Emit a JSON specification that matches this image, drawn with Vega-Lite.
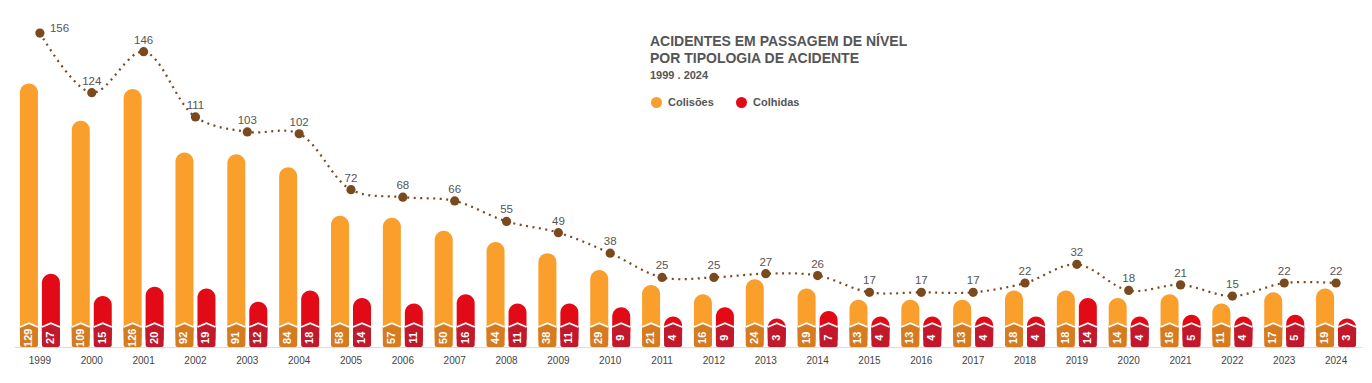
{
  "$schema": "https://vega.github.io/schema/vega-lite/v6.json",
  "width": 1348,
  "height": 347,
  "autosize": {"type": "none"},
  "padding": {"left": 14, "top": 0, "right": 10, "bottom": 36},
  "background": "white",
  "config": {
    "view": {"stroke": null},
    "font": "Liberation Sans"
  },
  "title": {
    "text": ["ACIDENTES EM PASSAGEM DE NÍVEL", "POR TIPOLOGIA DE ACIDENTE"],
    "subtitle": "1999 . 2024",
    "anchor": "start",
    "frame": "group",
    "dx": 636,
    "dy": 81,
    "offset": 0,
    "font": "Liberation Sans",
    "fontSize": 14,
    "fontWeight": "bold",
    "color": "#555555",
    "lineHeight": 17,
    "subtitleFont": "Liberation Sans",
    "subtitleFontSize": 11,
    "subtitleFontWeight": "bold",
    "subtitleColor": "#555555",
    "subtitlePadding": 4
  },
  "datasets": {
    "acidentes": [
      {"ano": "1999", "tipo": "Colisões", "valor": 129}, {"ano": "1999", "tipo": "Colhidas", "valor": 27},
      {"ano": "2000", "tipo": "Colisões", "valor": 109}, {"ano": "2000", "tipo": "Colhidas", "valor": 15},
      {"ano": "2001", "tipo": "Colisões", "valor": 126}, {"ano": "2001", "tipo": "Colhidas", "valor": 20},
      {"ano": "2002", "tipo": "Colisões", "valor": 92}, {"ano": "2002", "tipo": "Colhidas", "valor": 19},
      {"ano": "2003", "tipo": "Colisões", "valor": 91}, {"ano": "2003", "tipo": "Colhidas", "valor": 12},
      {"ano": "2004", "tipo": "Colisões", "valor": 84}, {"ano": "2004", "tipo": "Colhidas", "valor": 18},
      {"ano": "2005", "tipo": "Colisões", "valor": 58}, {"ano": "2005", "tipo": "Colhidas", "valor": 14},
      {"ano": "2006", "tipo": "Colisões", "valor": 57}, {"ano": "2006", "tipo": "Colhidas", "valor": 11},
      {"ano": "2007", "tipo": "Colisões", "valor": 50}, {"ano": "2007", "tipo": "Colhidas", "valor": 16},
      {"ano": "2008", "tipo": "Colisões", "valor": 44}, {"ano": "2008", "tipo": "Colhidas", "valor": 11},
      {"ano": "2009", "tipo": "Colisões", "valor": 38}, {"ano": "2009", "tipo": "Colhidas", "valor": 11},
      {"ano": "2010", "tipo": "Colisões", "valor": 29}, {"ano": "2010", "tipo": "Colhidas", "valor": 9},
      {"ano": "2011", "tipo": "Colisões", "valor": 21}, {"ano": "2011", "tipo": "Colhidas", "valor": 4},
      {"ano": "2012", "tipo": "Colisões", "valor": 16}, {"ano": "2012", "tipo": "Colhidas", "valor": 9},
      {"ano": "2013", "tipo": "Colisões", "valor": 24}, {"ano": "2013", "tipo": "Colhidas", "valor": 3},
      {"ano": "2014", "tipo": "Colisões", "valor": 19}, {"ano": "2014", "tipo": "Colhidas", "valor": 7},
      {"ano": "2015", "tipo": "Colisões", "valor": 13}, {"ano": "2015", "tipo": "Colhidas", "valor": 4},
      {"ano": "2016", "tipo": "Colisões", "valor": 13}, {"ano": "2016", "tipo": "Colhidas", "valor": 4},
      {"ano": "2017", "tipo": "Colisões", "valor": 13}, {"ano": "2017", "tipo": "Colhidas", "valor": 4},
      {"ano": "2018", "tipo": "Colisões", "valor": 18}, {"ano": "2018", "tipo": "Colhidas", "valor": 4},
      {"ano": "2019", "tipo": "Colisões", "valor": 18}, {"ano": "2019", "tipo": "Colhidas", "valor": 14},
      {"ano": "2020", "tipo": "Colisões", "valor": 14}, {"ano": "2020", "tipo": "Colhidas", "valor": 4},
      {"ano": "2021", "tipo": "Colisões", "valor": 16}, {"ano": "2021", "tipo": "Colhidas", "valor": 5},
      {"ano": "2022", "tipo": "Colisões", "valor": 11}, {"ano": "2022", "tipo": "Colhidas", "valor": 4},
      {"ano": "2023", "tipo": "Colisões", "valor": 17}, {"ano": "2023", "tipo": "Colhidas", "valor": 5},
      {"ano": "2024", "tipo": "Colisões", "valor": 19}, {"ano": "2024", "tipo": "Colhidas", "valor": 3}
    ],
    "totais": [
      {"ano": "1999", "total": 156}, {"ano": "2000", "total": 124}, {"ano": "2001", "total": 146},
      {"ano": "2002", "total": 111}, {"ano": "2003", "total": 103}, {"ano": "2004", "total": 102},
      {"ano": "2005", "total": 72}, {"ano": "2006", "total": 68}, {"ano": "2007", "total": 66},
      {"ano": "2008", "total": 55}, {"ano": "2009", "total": 49}, {"ano": "2010", "total": 38},
      {"ano": "2011", "total": 25}, {"ano": "2012", "total": 25}, {"ano": "2013", "total": 27},
      {"ano": "2014", "total": 26}, {"ano": "2015", "total": 17}, {"ano": "2016", "total": 17},
      {"ano": "2017", "total": 17}, {"ano": "2018", "total": 22}, {"ano": "2019", "total": 32},
      {"ano": "2020", "total": 18}, {"ano": "2021", "total": 21}, {"ano": "2022", "total": 15},
      {"ano": "2023", "total": 22}, {"ano": "2024", "total": 22}
    ]
  },
  "encoding": {
    "x": {
      "field": "ano",
      "type": "nominal",
      "scale": {"paddingInner": 0, "paddingOuter": 0},
      "axis": {
        "title": null,
        "labelAngle": 0,
        "ticks": false,
        "domainColor": "#dddddd",
        "domainWidth": 1,
        "labelFont": "Liberation Sans",
        "labelFontSize": 10,
        "labelColor": "#444444",
        "labelPadding": 8
      }
    }
  },
  "layer": [
    {
      "data": {"name": "acidentes"},
      "mark": {"type": "bar", "cornerRadiusEnd": 9},
      "encoding": {
        "xOffset": {"field": "tipo", "type": "nominal", "scale": {"domain": ["Colisões", "Colhidas"], "paddingInner": 0.182, "paddingOuter": 0.27}},
        "y": {"field": "valor", "type": "quantitative", "scale": {"domain": [-12.3, 173.7], "nice": false, "zero": false}, "axis": null},
        "y2": {"datum": -12.3},
        "color": {
          "field": "tipo",
          "type": "nominal",
          "scale": {"domain": ["Colisões", "Colhidas"], "range": ["#FA9E2C", "#E30A17"]},
          "legend": {
            "orient": "none",
            "legendX": 637,
            "legendY": 97,
            "direction": "horizontal",
            "title": null,
            "symbolType": "circle",
            "symbolSize": 121,
            "symbolStrokeWidth": 0,
            "symbolOpacity": 1,
            "labelFont": "Liberation Sans",
            "labelFontSize": 11,
            "labelFontWeight": "bold",
            "labelColor": "#555555",
            "labelOffset": 6,
            "columnPadding": 22,
            "padding": 0
          }
        }
      }
    },
    {
      "data": {"name": "acidentes"},
      "mark": {"type": "bar", "cornerRadiusBottomLeft": 2, "cornerRadiusBottomRight": 2},
      "encoding": {
        "xOffset": {"field": "tipo", "type": "nominal"},
        "y": {"datum": -1.8, "type": "quantitative"},
        "y2": {"datum": -12.3},
        "fill": {"field": "tipo", "type": "nominal", "scale": {"domain": ["Colisões", "Colhidas"], "range": ["#D67B1F", "#C2182B"]}, "legend": null}
      }
    },
    {
      "data": {"name": "acidentes"},
      "mark": {"type": "point", "shape": "M -1 0.12 L 0 -0.3 L 1 0.12 L 1 0.6 L -1 0.6 Z", "filled": true, "size": 324, "opacity": 1, "strokeWidth": 0},
      "encoding": {
        "xOffset": {"field": "tipo", "type": "nominal"},
        "y": {"datum": -1.0, "type": "quantitative"},
        "fill": {"field": "tipo", "type": "nominal", "legend": null}
      }
    },
    {
      "data": {"name": "acidentes"},
      "mark": {"type": "point", "shape": "M -1 0.12 L 0 -0.3 L 1 0.12", "filled": false, "fill": null, "stroke": "white", "strokeWidth": 1.8, "size": 324, "opacity": 1},
      "encoding": {
        "xOffset": {"field": "tipo", "type": "nominal"},
        "y": {"datum": -1.0, "type": "quantitative"}
      }
    },
    {
      "data": {"name": "acidentes"},
      "mark": {"type": "text", "angle": 270, "align": "center", "baseline": "middle", "color": "white", "font": "Liberation Sans", "fontSize": 11, "fontWeight": "bold"},
      "encoding": {
        "xOffset": {"field": "tipo", "type": "nominal"},
        "y": {"datum": -7.35, "type": "quantitative"},
        "text": {"field": "valor", "type": "quantitative"}
      }
    },
    {
      "data": {"name": "totais"},
      "mark": {"type": "line", "interpolate": "catmull-rom", "color": "#7A4A1E", "strokeWidth": 2.2, "strokeDash": [2, 4.5]},
      "encoding": {
        "y": {"field": "total", "type": "quantitative"}
      }
    },
    {
      "data": {"name": "totais"},
      "mark": {"type": "circle", "color": "#7A4A1E", "size": 85, "opacity": 1},
      "encoding": {
        "y": {"field": "total", "type": "quantitative"}
      }
    },
    {
      "data": {"name": "totais"},
      "transform": [{"filter": "datum.ano != '1999'"}],
      "mark": {"type": "text", "align": "center", "baseline": "alphabetic", "dy": -8, "color": "#555555", "font": "Liberation Sans", "fontSize": 11.5},
      "encoding": {
        "y": {"field": "total", "type": "quantitative"},
        "text": {"field": "total", "type": "quantitative"}
      }
    },
    {
      "data": {"name": "totais"},
      "transform": [{"filter": "datum.ano == '1999'"}],
      "mark": {"type": "text", "align": "left", "baseline": "alphabetic", "dx": 10, "dy": -1, "color": "#555555", "font": "Liberation Sans", "fontSize": 11.5},
      "encoding": {
        "y": {"field": "total", "type": "quantitative"},
        "text": {"field": "total", "type": "quantitative"}
      }
    }
  ]
}
